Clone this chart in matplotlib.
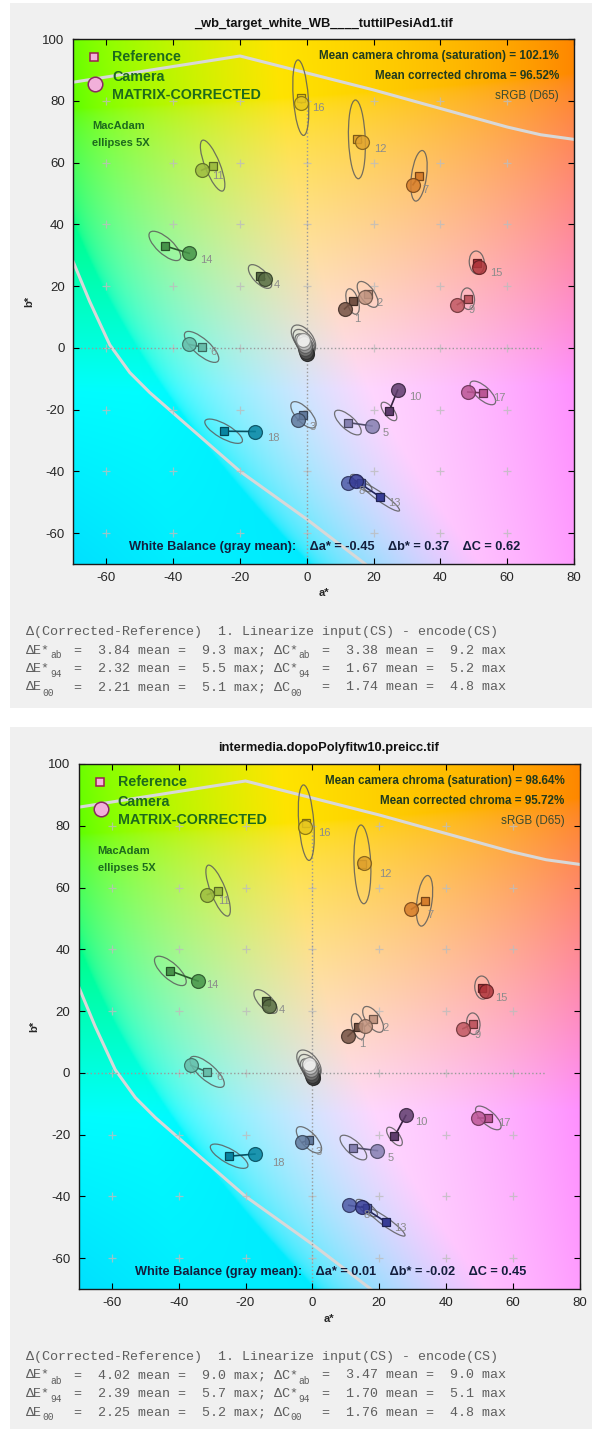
import numpy as np
import matplotlib.pyplot as plt
from matplotlib.patches import Ellipse, Rectangle

plt.rcParams['font.family'] = ['Liberation Sans', 'DejaVu Sans']
plt.rcParams['axes.unicode_minus'] = False

W, H = 592, 1429

# ColorChecker patches 1..24 (sRGB 0-255)
patch_rgb = [
    (115, 82, 68), (194, 150, 130), (98, 122, 157), (87, 108, 67), (133, 128, 177), (103, 189, 170),
    (214, 126, 44), (80, 91, 166), (193, 90, 99), (94, 60, 108), (157, 188, 64), (224, 163, 46),
    (56, 61, 150), (70, 148, 73), (175, 54, 60), (231, 199, 31), (187, 86, 149), (8, 133, 161),
    (243, 243, 242), (200, 200, 200), (160, 160, 160), (122, 122, 121), (85, 85, 85), (52, 52, 52),
]

# reference a*, b*
ref_a = [13.7, 18.2, -1.0, -14.0, 12.3, -31.5, 33.6, 16.3, 48.2, 24.6, -28.2, 15.0,
         22.0, -42.5, 50.9, -1.8, 52.7, -24.9, -1.0, -0.8, -0.6, -0.4, -0.2, 0.0]
ref_b = [15.0, 17.3, -21.7, 23.1, -24.2, 0.3, 55.7, -43.8, 15.9, -20.6, 59.0, 67.5,
         -48.3, 33.0, 27.6, 81.0, -14.6, -27.0, 3.0, 2.0, 1.0, 0.0, -0.8, -1.5]

# matrix-corrected camera a*, b*  (top image / bottom image)
top_cam_a = [11.3, 17.4, -2.7, -12.6, 19.5, -35.2, 31.8, 12.3, 45.1, 27.2, -31.5, 16.4,
             14.6, -35.2, 51.6, -1.6, 48.2, -15.5, -1.0, -0.8, -0.6, -0.4, -0.2, 0.0]
top_cam_b = [12.6, 16.6, -23.5, 22.3, -25.3, 1.1, 52.8, -43.8, 14.0, -13.7, 57.5, 66.6,
             -43.0, 30.6, 26.2, 79.3, -14.3, -27.1, 2.6, 1.6, 0.6, -0.4, -1.2, -1.9]
bot_cam_a = [10.7, 15.8, -3.0, -13.0, 19.5, -36.3, 29.7, 10.9, 45.1, 28.0, -31.4, 15.5,
             14.9, -34.2, 51.9, -2.3, 49.7, -17.2, -0.9, -0.7, -0.5, -0.3, -0.1, 0.1]
bot_cam_b = [11.9, 15.1, -22.5, 21.6, -25.2, 2.4, 53.0, -42.9, 14.3, -13.8, 57.7, 67.8,
             -43.3, 29.7, 26.5, 79.5, -14.6, -26.3, 2.9, 1.9, 0.9, -0.1, -0.9, -1.6]

# MacAdam ellipses 5X (major, minor, angle in degrees)
ell_major = [8.5, 9.5, 10.5, 9.5, 10.5, 13.5, 16.5, 8.0, 7.0, 7.0, 17.5, 25.5,
             14.5, 12.5, 7.5, 24.5, 10.0, 13.0, 10.0, 9.0, 8.0, 7.0, 6.0, 5.0]
ell_minor = [3.5, 4.3, 4.5, 4.2, 4.2, 5.0, 4.5, 3.0, 4.0, 3.0, 4.5, 5.0,
             2.6, 5.0, 4.5, 4.5, 4.2, 4.5, 5.5, 5.0, 4.5, 4.0, 3.5, 3.0]
ell_angle = [105, 122, 130, 131, 135, 136, 83, 140, 95, 125, 110, 92,
             142, 135, 95, 94, 135, 148, 125, 125, 125, 125, 125, 125]

# patch number labels (patches 1..18)
label_a = [15.0, 21.8, 1.8, -9.0, 23.5, -27.8, 35.4, 16.3, 49.4, 32.6, -26.6, 22.0,
           26.3, -30.0, 56.7, 3.5, 57.6, -10.1]
label_b = [9.2, 14.4, -25.5, 20.3, -27.7, -1.4, 51.2, -46.2, 12.3, -15.9, 55.5, 64.5,
           -50.2, 28.4, 24.1, 77.5, -16.4, -29.3]

# sRGB gamut boundary
gamut_top_a = [-70, -20, 0, 20, 40, 60, 70, 80]
gamut_top_b = [86, 94.5, 89, 83.5, 77.5, 71.5, 69, 67.5]
gamut_low_a = [-70, -65, -59, -53, -47, -20, 0, 17.5]
gamut_low_b = [28, 15, 1, -8, -14.5, -40, -55.5, -70]

titles = ['_wb_target_white_WB____tuttilPesiAd1.tif', 'intermedia.dopoPolyfitw10.preicc.tif']
cam_chroma = ['102.1%', '98.64%']
corr_chroma = ['96.52%', '95.72%']
wb_da = ['-0.45', '0.01']
wb_db = ['0.37', '-0.02']
wb_dc = ['0.62', '0.45']
stats_ab = [(3.84, 9.3, 3.38, 9.2), (4.02, 9.0, 3.47, 9.0)]
stats_94 = [(2.32, 5.5, 1.67, 5.2), (2.39, 5.7, 1.70, 5.1)]
stats_00 = [(2.21, 5.1, 1.74, 4.8), (2.25, 5.2, 1.76, 4.8)]


def lab_to_srgb(L, a, b):
    fy = (L + 16) / 116
    fx = fy + a / 500
    fz = fy - b / 200

    def finv(t):
        return np.where(t > 6 / 29, t ** 3, 3 * (6 / 29) ** 2 * (t - 4 / 29))

    xyz = np.stack([0.95047 * finv(fx), finv(fy) * np.ones_like(fx), 1.08883 * finv(fz)], -1)
    M = np.array([[3.2406, -1.5372, -0.4986],
                  [-0.9689, 1.8758, 0.0415],
                  [0.0557, -0.2040, 1.0570]])
    rgb = np.clip(xyz @ M.T, 0, 1)
    return np.where(rgb <= 0.0031308, 12.92 * rgb, 1.055 * rgb ** (1 / 2.4) - 0.055)


ga, gb = np.meshgrid(np.linspace(-70, 80, 300), np.linspace(-70, 100, 340))
background = lab_to_srgb(90.0, 1.1 * ga, 1.1 * gb)
# cyan corner of the reference leans towards blue
background[..., 1] *= 1 - 0.12 * np.clip((-gb - 10) / 60, 0, 1) * np.clip(-ga / 70, 0, 1)

fig = plt.figure(figsize=(W / 100, H / 100), dpi=100)
fig.patches.append(Rectangle((10 / W, 1 - 708 / H), 1, 705 / H, transform=fig.transFigure,
                             facecolor='#f0f0f0', edgecolor='none', zorder=-10))
fig.patches.append(Rectangle((10 / W, 0), 1, 1 - 727 / H, transform=fig.transFigure,
                             facecolor='#f0f0f0', edgecolor='none', zorder=-10))

green = '#1d6a1d'


def mono_line(y_px, line, fs=9.6, color='#5e5e5e'):
    cw = 0.6 * fs * 100 / 72
    x0 = 26
    pieces, cur, col, start, i = [], '', 0, 0, 0
    while i < len(line):
        if line.startswith('_{', i):
            j = line.index('}', i)
            s = line[i + 2:j]
            if cur:
                pieces.append((start, cur, False))
            pieces.append((col, s, True))
            col += len(s)
            cur, start = '', col
            i = j + 1
        else:
            cur += line[i]
            col += 1
            i += 1
    if cur:
        pieces.append((start, cur, False))
    for c0, s, is_sub in pieces:
        lead = len(s) - len(s.lstrip(' '))
        s = s.strip(' ')
        if not s:
            continue
        if is_sub:
            fig.text((x0 + c0 * cw) / W, 1 - (y_px + 5) / H, s, family='Liberation Mono',
                     fontsize=fs * 0.72, color=color, va='center', ha='left')
        else:
            fig.text((x0 + (c0 + lead) * cw) / W, 1 - y_px / H, s, family='Liberation Mono',
                     fontsize=fs, color=color, va='center', ha='left')


def draw_panel(k, left_px, dy, cam_a, cam_b):
    ax = fig.add_axes([left_px / W, 1 - (564 + dy) / H, 501 / W, 525 / H])
    ax.imshow(background, extent=(-70, 80, -70, 100), origin='lower', aspect='auto',
              interpolation='bilinear', zorder=0)
    ax.set_xlim(-70, 80)
    ax.set_ylim(-70, 100)

    ax.plot(gamut_top_a, gamut_top_b, color='#d8d8d8', lw=2.2, zorder=1)
    ax.plot(gamut_low_a, gamut_low_b, color='#d8d8d8', lw=2.2, zorder=1)

    cx, cy = np.meshgrid(np.arange(-60, 61, 20), np.arange(-60, 81, 20))
    ax.plot(cx.ravel(), cy.ravel(), '+', color='#bdbdbd', ms=6, mew=0.9, alpha=0.8, zorder=1)
    ax.plot([-70, 70], [0, 0], ':', color='#9a9a9a', lw=1, zorder=1)
    ax.plot([0, 0], [-70, 78], ':', color='#9a9a9a', lw=1, zorder=1)

    for i in range(24):
        ax.add_patch(Ellipse((ref_a[i], ref_b[i]), ell_major[i], ell_minor[i], angle=ell_angle[i],
                             fill=False, edgecolor='#5c5c5c', lw=0.9, alpha=0.85, zorder=2))

    order = list(range(18)) + list(range(23, 17, -1))
    for i in order:
        c = np.array(patch_rgb[i]) / 255
        dark = c * 0.55
        ax.plot([ref_a[i], cam_a[i]], [ref_b[i], cam_b[i]], color=c * 0.6, lw=1.2, zorder=3)
        ax.plot(ref_a[i], ref_b[i], 's', ms=5.5, mfc=c, mec=dark, mew=0.9, zorder=4)
        ax.plot(cam_a[i], cam_b[i], 'o', ms=10, mfc=c, mec=dark, mew=0.9, alpha=0.85, zorder=5)

    for i in range(18):
        ax.text(label_a[i], label_b[i], str(i + 1), fontsize=8, color='#8c8c8c',
                ha='center', va='center', zorder=6)

    ax.set_xticks(range(-60, 81, 20))
    ax.set_yticks(range(-60, 101, 20))
    ax.tick_params(direction='in', top=True, right=True, length=4, width=0.8,
                   labelsize=9.5, labelcolor='#262626', pad=6)
    for s in ax.spines.values():
        s.set_linewidth(1.0)
        s.set_color('#1a1a1a')
    ax.set_xlabel('a*', fontsize=8, fontweight='bold', color='#262626', labelpad=3)
    ax.set_ylabel('b*', fontsize=8, fontweight='bold', color='#262626', labelpad=6)
    ax.set_title(titles[k], fontsize=9.3, fontweight='bold', color='#111111', pad=9)

    # legend block
    ax.plot(0.042, 0.966, 's', ms=5.5, mfc='#f5b3dd', mec='#9a2050', mew=1.1,
            transform=ax.transAxes, zorder=7)
    ax.plot(0.044, 0.914, 'o', ms=10.5, mfc='#f2b0da', mec='#8a2a60', mew=1.1,
            transform=ax.transAxes, zorder=7)
    ax.text(0.078, 0.966, 'Reference', transform=ax.transAxes, fontsize=10.3, fontweight='bold',
            color=green, va='center', zorder=7)
    ax.text(0.078, 0.928, 'Camera', transform=ax.transAxes, fontsize=10.3, fontweight='bold',
            color=green, va='center', zorder=7)
    ax.text(0.078, 0.894, 'MATRIX-CORRECTED', transform=ax.transAxes, fontsize=10.3,
            fontweight='bold', color=green, va='center', zorder=7)
    ax.text(0.038, 0.834, 'MacAdam', transform=ax.transAxes, fontsize=8, fontweight='bold',
            color=green, va='center', zorder=7)
    ax.text(0.038, 0.802, 'ellipses 5X', transform=ax.transAxes, fontsize=8, fontweight='bold',
            color=green, va='center', zorder=7)

    ax.text(0.970, 0.968, f'Mean camera chroma (saturation) = {cam_chroma[k]}', transform=ax.transAxes,
            fontsize=8.4, fontweight='bold', color='#1f3a1f', ha='right', va='center', zorder=7)
    ax.text(0.970, 0.930, f'Mean corrected chroma = {corr_chroma[k]}', transform=ax.transAxes,
            fontsize=8.4, fontweight='bold', color='#1f3a1f', ha='right', va='center', zorder=7)
    ax.text(0.970, 0.891, 'sRGB (D65)', transform=ax.transAxes, fontsize=8.4,
            color='#3a4a30', ha='right', va='center', zorder=7)

    wb = (f'White Balance (gray mean):    \u0394a* = {wb_da[k]}    \u0394b* = {wb_db[k]}'
          f'    \u0394C = {wb_dc[k]}')
    ax.text(0.503, 0.032, wb, transform=ax.transAxes, fontsize=9.2, fontweight='bold',
            color='#141e3c', ha='center', va='center', zorder=7)

    s1, s2, s3 = stats_ab[k], stats_94[k], stats_00[k]
    mono_line(632 + dy, '\u0394(Corrected-Reference)  1. Linearize input(CS) - encode(CS)')
    mono_line(650.5 + dy, '\u0394E*_{ab} = %5.2f mean = %4.1f max; \u0394C*_{ab} = %5.2f mean = %4.1f max' % s1)
    mono_line(669 + dy, '\u0394E*_{94} = %5.2f mean = %4.1f max; \u0394C*_{94} = %5.2f mean = %4.1f max' % s2)
    mono_line(687.5 + dy, '\u0394E_{00}  = %5.2f mean = %4.1f max; \u0394C_{00}  = %5.2f mean = %4.1f max' % s3)


draw_panel(0, 73, 0, top_cam_a, top_cam_b)
draw_panel(1, 78.5, 725, bot_cam_a, bot_cam_b)

fig.savefig('out.png', dpi=100)
